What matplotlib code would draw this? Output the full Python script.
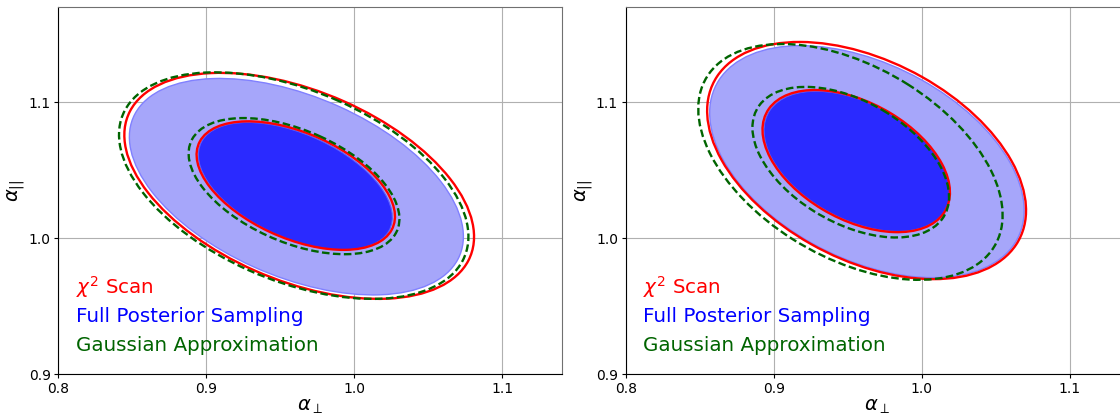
"""Two-panel BAO contour comparison: chi2 scan vs posterior sampling vs Gaussian."""

import numpy as np
import matplotlib

matplotlib.use("Agg")
import matplotlib.pyplot as plt
from matplotlib.patches import Ellipse


# Each contour: (centre a_perp, centre a_par, half-extent a_perp, half-extent a_par, correlation)
# listed as [68% contour, 95% contour]
LEFT_CHI2 = [(0.9604, 1.0386, 0.0670, 0.0472, -0.48), (0.9627, 1.0384, 0.1181, 0.0830, -0.45)]
LEFT_POST = [(0.9601, 1.0382, 0.0655, 0.0468, -0.49), (0.9608, 1.0378, 0.1128, 0.0795, -0.46)]
LEFT_GAUSS = [(0.9592, 1.0382, 0.0712, 0.0500, -0.48), (0.9590, 1.0386, 0.1180, 0.0832, -0.45)]

RIGHT_CHI2 = [(0.9557, 1.0566, 0.0633, 0.0522, -0.44), (0.9627, 1.0570, 0.1077, 0.0871, -0.42)]
RIGHT_POST = [(0.9561, 1.0564, 0.0627, 0.0515, -0.44), (0.9629, 1.0562, 0.1062, 0.0852, -0.42)]
RIGHT_GAUSS = [(0.9520, 1.0558, 0.0664, 0.0553, -0.46), (0.9518, 1.0560, 0.1028, 0.0866, -0.45)]

XTICKS = [0.8, 0.9, 1.0, 1.1]
YTICKS = [0.9, 1.0, 1.1]
LEGEND = [("$\\chi^2$ Scan", "#ff0000"),
          ("Full Posterior Sampling", "#0000ff"),
          ("Gaussian Approximation", "#006400")]


def ellipse(c, **kw):
    x0, y0, ex, ey, rho = c
    cov = np.array([[ex * ex, rho * ex * ey], [rho * ex * ey, ey * ey]])
    vals, vecs = np.linalg.eigh(cov)
    ang = np.degrees(np.arctan2(vecs[1, 1], vecs[0, 1]))
    return Ellipse((x0, y0), 2 * np.sqrt(vals[1]), 2 * np.sqrt(vals[0]), angle=ang, **kw)


def panel(ax, chi2, post, gauss):
    ax.set_axisbelow(True)
    ax.grid(True, color="#b0b0b0", lw=0.8)
    # posterior fills
    ax.add_patch(ellipse(post[1], facecolor="#a6a6fa", edgecolor="#8080ff", lw=1.0, zorder=2))
    ax.add_patch(ellipse(post[0], facecolor="#2a2aff", edgecolor="#5a5aff", lw=0.8, zorder=3))
    for c in chi2:
        ax.add_patch(ellipse(c, fill=False, edgecolor="#ff0000", lw=1.7, zorder=4))
    for c in gauss:
        ax.add_patch(ellipse(c, fill=False, edgecolor="#006400", lw=1.7,
                             ls=(0, (3.2, 1.45)), zorder=5))

    ax.set_xlim(0.8, 1.14)
    ax.set_ylim(0.9, 1.17)
    ax.set_xticks(XTICKS)
    ax.set_yticks(YTICKS)
    ax.tick_params(labelsize=10, length=3, width=0.8, pad=2.5)
    ax.set_xlabel(r"$\alpha_{\perp}$", fontsize=14, labelpad=1)
    ax.set_ylabel(r"$\alpha_{||}$", fontsize=14, labelpad=1)
    for side in ("top", "right"):
        ax.spines[side].set_color("#707070")
    for side in ("left", "bottom"):
        ax.spines[side].set_color("black")

    for (txt, col), yy in zip(LEGEND, [0.236, 0.158, 0.079]):
        ax.text(0.035, yy, txt, color=col, fontsize=14.3, transform=ax.transAxes,
                ha="left", va="center")


fig = plt.figure(figsize=(11.2, 4.17), dpi=100)
ax1 = fig.add_axes([58.3 / 1120, 42.7 / 417, 503.4 / 1120, 367.6 / 417])
ax2 = fig.add_axes([625.7 / 1120, 42.7 / 417, 503.4 / 1120, 367.6 / 417])

panel(ax1, LEFT_CHI2, LEFT_POST, LEFT_GAUSS)
panel(ax2, RIGHT_CHI2, RIGHT_POST, RIGHT_GAUSS)

fig.savefig("out.png", dpi=100)
